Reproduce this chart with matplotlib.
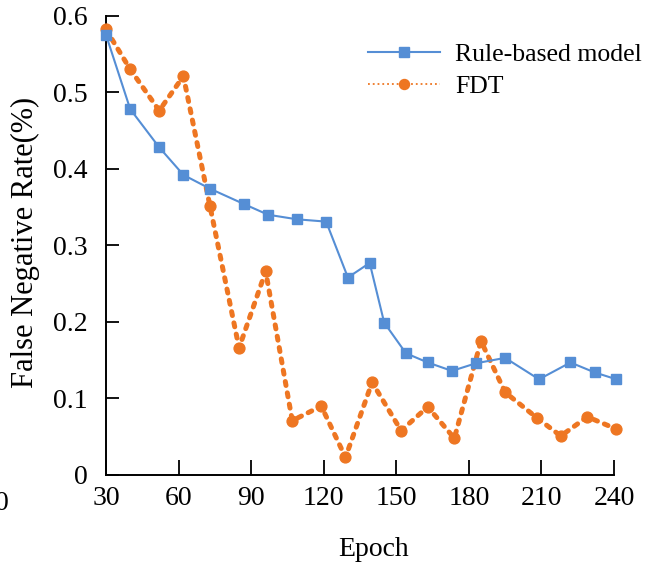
import matplotlib
matplotlib.use('Agg')
import matplotlib.pyplot as plt
from matplotlib.lines import Line2D

plt.rcParams['font.family'] = ['Liberation Serif', 'DejaVu Serif']
plt.rcParams['font.size'] = 20

# data
rule_x = [30, 40, 52, 62, 73, 87, 97, 109, 121, 130, 139, 145, 154, 163, 173, 183, 195, 209, 222, 232, 241]
rule_y = [0.575, 0.478, 0.428, 0.392, 0.374, 0.354, 0.340, 0.334, 0.331, 0.258, 0.277, 0.199,
          0.159, 0.147, 0.136, 0.146, 0.153, 0.125, 0.147, 0.134, 0.125]
fdt_x = [30, 40, 52, 62, 73, 85, 96, 107, 119, 129, 140, 152, 163, 174, 185, 195, 208, 218, 229, 241]
fdt_y = [0.582, 0.530, 0.476, 0.521, 0.351, 0.166, 0.266, 0.071, 0.090, 0.023, 0.121, 0.058,
         0.089, 0.048, 0.175, 0.108, 0.075, 0.051, 0.076, 0.060]
x_ticks = [30, 60, 90, 120, 150, 180, 210, 240]
y_ticks = [0, 0.1, 0.2, 0.3, 0.4, 0.5, 0.6]
y_ticklabels = ['0', '0.1', '0.2', '0.3', '0.4', '0.5', '0.6']

BLUE = '#558ED5'
ORANGE = '#EE7622'

fig = plt.figure(figsize=(6.5, 5.64), dpi=100)
ax = fig.add_axes([106 / 650, 1 - 475 / 564, 508 / 650, 459.3 / 564])

ax.plot(fdt_x, fdt_y, color=ORANGE, lw=3.6, marker='o', ms=7.8,
        dashes=[0.8, 1.5], dash_capstyle='round', clip_on=False, zorder=3)
ax.plot(rule_x, rule_y, color=BLUE, lw=1.5, marker='s', ms=7.2, clip_on=False, zorder=4)

ax.set_xlim(30, 240)
ax.set_ylim(0, 0.6)
ax.set_xticks(x_ticks)
ax.set_yticks(y_ticks)
ax.set_yticklabels(y_ticklabels)
for s in ['top', 'right']:
    ax.spines[s].set_visible(False)
for s in ['left', 'bottom']:
    ax.spines[s].set_linewidth(1.4)
ax.tick_params(axis='both', direction='in', width=1.3, labelsize=20)
ax.tick_params(axis='y', length=9, pad=13)
ax.tick_params(axis='x', length=10.5, pad=8)

ax.set_xlabel('Epoch', fontsize=20)
ax.xaxis.set_label_coords((374 - 106) / 508, -0.135)
fig.text(25 / 650, 1 - 242.5 / 564, 'False Negative Rate(%)', rotation=90,
         ha='center', va='center', fontsize=22)
fig.text(1.5 / 650, 1 - 504 / 564, '0', ha='center', va='center', fontsize=20)

handles = [
    Line2D([], [], color=BLUE, lw=1.5, marker='s', ms=7.2),
    Line2D([], [], color=ORANGE, lw=1.3, ls=':', marker='o', ms=7.2),
]
ax.legend(handles, ['Rule-based model', 'FDT'], loc='upper left',
          bbox_to_anchor=(368 / 650, 1 - 43 / 564), bbox_transform=fig.transFigure,
          frameon=False, borderpad=0, borderaxespad=0, handlelength=2.8,
          handletextpad=0.6, labelspacing=0.35, fontsize=18.5)

fig.savefig('out.png', dpi=100)
